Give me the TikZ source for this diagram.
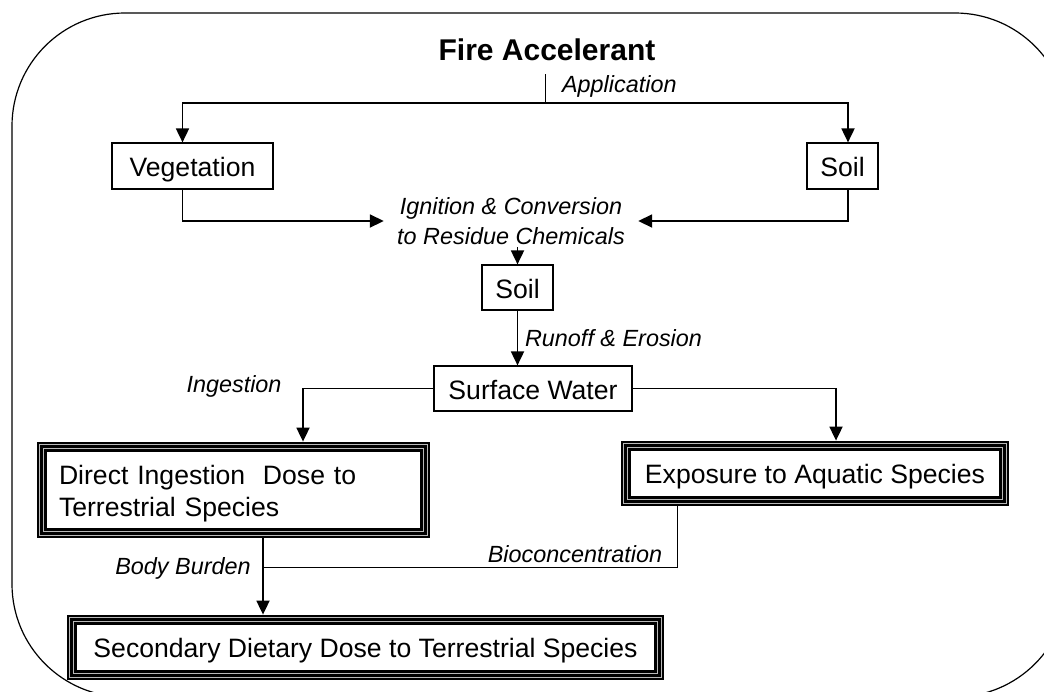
\documentclass[tikz,border=0pt]{standalone}
\usepackage{fontspec}
\setmainfont{Liberation Sans}
\usetikzlibrary{positioning, arrows.meta, calc}

\begin{document}
\begin{tikzpicture}[
    x=0.5pt, y=-0.5pt,
    box_style/.style={draw, line width=0.6pt, inner sep=0pt, text height=11pt, text depth=0.5pt,
        font=\fontsize{13.3}{16}\selectfont},
    tri_style/.style={inner sep=0pt, font=\fontsize{13.3}{16}\selectfont},
    label_style/.style={font=\fontsize{11.7}{15}\selectfont\itshape},
    arrow_style/.style={line width=0.9pt, -{Triangle[length=7pt,width=6.5pt]}},
    line_style/.style={line width=0.5pt}
]
    \useasboundingbox (0,0) rectangle (1044,691);

    % Outer frame
    \begin{scope}
        \clip (0,0) rectangle (1044,691);
        \draw[line width=0.6pt, rounded corners=56.5pt] (12,13) rectangle (1068,697);
    \end{scope}

    % Nodes
    \node[font=\fontsize{15}{18}\selectfont\bfseries] (title) at (547,50) {Fire Accelerant};
    \coordinate (apptop) at (545,74);
    \coordinate (appjoin) at (545,103);
    \node[box_style, minimum width=80.5pt, minimum height=23pt] (veg) at (192.5,166) {Vegetation};
    \node[box_style, minimum width=35.5pt, minimum height=23pt] (soila) at (842.5,166) {Soil};
    \node[label_style, align=center, inner xsep=6.5pt, inner ysep=0pt] (ign) at (511,221)
        {Ignition \& Conversion\\to Residue Chemicals};
    \node[box_style, minimum width=35.5pt, minimum height=22.5pt] (soilb) at (517.5,287.5) {Soil};
    \node[box_style, minimum width=99pt, minimum height=22.5pt] (sw) at (533,388.5) {Surface Water};
    \node[tri_style, text width=174.5pt, inner xsep=11pt, minimum height=48pt, align=left] (direct) at (233.5,490)
        {\rule{0pt}{13pt}Direct Ingestion\ \ Dose to\\Terrestrial Species};
    \node[tri_style, text height=10.5pt, text depth=1pt, minimum width=194pt, minimum height=32.5pt] (expo) at (815,473.5)
        {Exposure to Aquatic Species};
    \node[tri_style, text height=10.5pt, text depth=1pt, minimum width=298.5pt, minimum height=32.5pt] (second) at (365.5,647.5)
        {Secondary Dietary Dose to Terrestrial Species};
    \coordinate (bioend) at (263,567);

    % Triple frames
    \foreach \b in {direct, expo, second} {
        \draw[line width=5pt] ([shift={(5,5)}]\b.north west) rectangle ([shift={(-5,-5)}]\b.south east);
        \draw[gray!55, line width=0.5pt] ([shift={(3.3,3.3)}]\b.north west) rectangle ([shift={(-3.3,-3.3)}]\b.south east);
        \draw[gray!55, line width=0.5pt] ([shift={(7,7)}]\b.north west) rectangle ([shift={(-7,-7)}]\b.south east);
    }

    % Connectors
    \draw[line_style] (apptop) -- (appjoin);
    \draw[arrow_style] (appjoin) -| ([xshift=-5pt]veg.north);
    \draw[arrow_style] (appjoin) -| ([xshift=2.75pt]soila.north);
    \draw[arrow_style] ([xshift=-5pt]veg.south) |- (ign.west);
    \draw[arrow_style] ([xshift=2.75pt]soila.south) |- (ign.east);
    \draw[arrow_style] ([yshift=-1pt]soilb.north |- ign.south) -- (soilb.north);
    \draw[arrow_style] (soilb.south) -- (soilb.south |- sw.north)
        node[midway, right, label_style] {Runoff \& Erosion};
    \draw[arrow_style] (sw.west) -| ($(direct.north)+(69.5,0)$);
    \draw[arrow_style] (sw.east) -| ($(expo.north)+(21,0)$);
    \draw[line_style] ($(expo.south)+(-138,0)$) |- (bioend);
    \draw[arrow_style] ($(direct.south)+(29.5,0)$) -- ($(second.north)+(-102.5,0)$);

    % Labels
    \node[label_style, anchor=west] (applbl) at (555,86) {Application};
    \node[label_style] (inglbl) at (234,386) {Ingestion};
    \node[label_style] (bblbl) at (183,568) {Body Burden};
    \node[label_style] (biolbl) at (575,554) {Bioconcentration};
\end{tikzpicture}
\end{document}
